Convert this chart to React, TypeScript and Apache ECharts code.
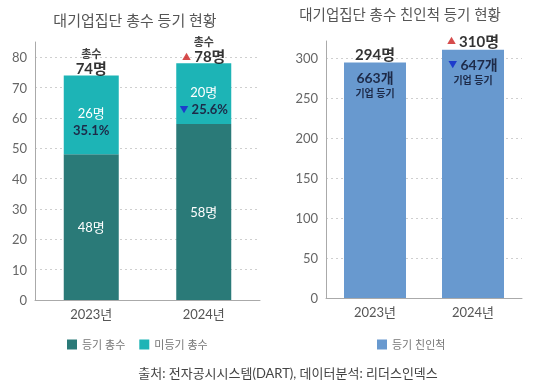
import React, { useEffect, useRef } from "react";
import * as echarts from "echarts";

const years = ["2023년", "2024년"];
const registered = [48, 58];
const unregistered = [26, 20];
const totals = [74, 78];
const unregisteredPct = ["35.1%", "25.6%"];
const relatives = [294, 310];
const companies = [663, 647];
const changeUp = [false, true];
const changeDown = [false, true];

const FONT = 'Lato, "Noto Sans CJK KR", "Noto Sans", sans-serif';
const C_DARK = "#2a7a78";
const C_LIGHT = "#1db4b6";
const C_BLUE = "#6899cf";
const NAVY = "#1d2a48";
const RED = "#cc1f1f";
const BLUE_TRI = "#1d3ccc";

export default function App() {
  const ref = useRef<HTMLDivElement>(null);
  useEffect(() => {
    document.body.style.margin = "0";
    const chart = echarts.init(ref.current!, undefined, { renderer: "svg" });
    const yLabel = { color: "#666", fontSize: 13, fontFamily: FONT, margin: 8, showMaxLabel: false };
    const xLabel = { color: "#555", fontSize: 13, fontFamily: FONT, margin: 7 };
    const splitLine = { show: true, showMaxLine: false, lineStyle: { color: "#cfcfcf", type: [2, 3] as any, width: 1 } };
    const axisLine = { show: true, lineStyle: { color: "#aaa", width: 1 } };
    chart.setOption({
      animation: false,
      textStyle: { fontFamily: FONT },
      grid: [
        { left: 35, top: 42, width: 225, height: 258 },
        { left: 326, top: 41, width: 196, height: 257 },
      ],
      xAxis: [
        { type: "category", gridIndex: 0, data: years, axisLine, axisTick: { show: false }, axisLabel: xLabel },
        { type: "category", gridIndex: 1, data: years, axisLine, axisTick: { show: false }, axisLabel: xLabel },
      ],
      yAxis: [
        { type: "value", gridIndex: 0, min: 0, max: 85, interval: 10, axisLine, axisTick: { show: false }, axisLabel: yLabel, splitLine },
        { type: "value", gridIndex: 1, min: 0, max: 321, interval: 50, axisLine, axisTick: { show: false }, axisLabel: yLabel, splitLine },
      ],
      legend: [
        { data: ["등기 총수", "미등기 총수"], left: 62, top: 334, itemWidth: 10, itemHeight: 10, itemGap: 14, icon: "rect",
          textStyle: { color: "#777", fontSize: 11, fontFamily: FONT }, selectedMode: false },
        { data: ["등기 친인척"], left: 372, top: 334, itemWidth: 10, itemHeight: 10, icon: "rect",
          textStyle: { color: "#777", fontSize: 11, fontFamily: FONT }, selectedMode: false },
      ],
      graphic: [
        { type: "text", x: 135, y: 20, style: { text: "대기업집단 총수 등기 현황", align: "center", verticalAlign: "middle", fontSize: 15, fontFamily: FONT, fill: "#555" } },
        { type: "text", x: 400, y: 14, style: { text: "대기업집단 총수 친인척 등기 현황", align: "center", verticalAlign: "middle", fontSize: 14.5, fontFamily: FONT, fill: "#555" } },
        { type: "text", x: 288, y: 373, style: { text: "출처: 전자공시시스템(DART), 데이터분석: 리더스인덱스", align: "center", verticalAlign: "middle", fontSize: 13, fontFamily: FONT, fill: "#444" } },
      ],
      series: [
        {
          name: "등기 총수", type: "bar", stack: "a", xAxisIndex: 0, yAxisIndex: 0, barWidth: 55,
          data: registered, itemStyle: { color: C_DARK },
          label: { show: true, position: "inside", color: "#fff", fontSize: 13, fontFamily: FONT,
            formatter: (p: any) => `${p.value}명` },
        },
        {
          name: "미등기 총수", type: "bar", stack: "a", xAxisIndex: 0, yAxisIndex: 0, barWidth: 55,
          data: unregistered, itemStyle: { color: C_LIGHT },
          label: { show: true, position: "inside", offset: [0, 7], fontFamily: FONT,
            formatter: (p: any) => `{w|${p.value}명}\n${changeDown[p.dataIndex] ? "{db|▼} " : ""}{p|${unregisteredPct[p.dataIndex]}}`,
            rich: {
              w: { color: "#fff", fontSize: 13, lineHeight: 17, fontFamily: FONT },
              p: { color: NAVY, fontSize: 13, fontWeight: "bold", lineHeight: 17, fontFamily: FONT },
              db: { color: BLUE_TRI, fontSize: 9, lineHeight: 17 },
            } },
        },
        {
          name: "total", type: "scatter", xAxisIndex: 0, yAxisIndex: 0, data: totals, symbolSize: 0.1,
          itemStyle: { color: "transparent" }, silent: true,
          label: { show: true, position: "top", distance: -1, fontFamily: FONT,
            formatter: (p: any) => `{s|총수}\n${changeUp[p.dataIndex] ? "{up|▲} " : ""}{v|${p.value}명}`,
            rich: {
              s: { color: "#111", fontSize: 11, fontWeight: "bold", lineHeight: 14, fontFamily: FONT },
              v: { color: "#000", fontSize: 15, fontWeight: "bold", lineHeight: 16, fontFamily: FONT },
              up: { color: RED, fontSize: 9, lineHeight: 16 },
            } },
        },
        {
          name: "등기 친인척", type: "bar", xAxisIndex: 1, yAxisIndex: 1, barWidth: 62,
          data: relatives, itemStyle: { color: C_BLUE },
          label: { show: true, position: "insideTop", distance: 7, fontFamily: FONT,
            formatter: (p: any) => `${changeDown[p.dataIndex] ? "{db|▼} " : ""}{c|${companies[p.dataIndex]}개}\n{k|기업 등기}`,
            rich: {
              c: { color: NAVY, fontSize: 14, fontWeight: "bold", lineHeight: 16, fontFamily: FONT },
              k: { color: NAVY, fontSize: 10, fontWeight: "bold", lineHeight: 14, fontFamily: FONT },
              db: { color: BLUE_TRI, fontSize: 9, lineHeight: 16 },
            } },
        },
        {
          name: "relTotal", type: "scatter", xAxisIndex: 1, yAxisIndex: 1, data: relatives, symbolSize: 0.1,
          itemStyle: { color: "transparent" }, silent: true,
          label: { show: true, position: "top", distance: 1, fontFamily: FONT,
            formatter: (p: any) => `${changeUp[p.dataIndex] ? "{up|▲} " : ""}{v|${p.value}명}`,
            rich: {
              v: { color: "#000", fontSize: 15, fontWeight: "bold", lineHeight: 16, fontFamily: FONT },
              up: { color: RED, fontSize: 9, lineHeight: 16 },
            } },
        },
      ],
    });
    return () => chart.dispose();
  }, []);
  return <div ref={ref} style={{ position: "fixed", left: 0, top: 0, width: 548, height: 384 }} />;
}
